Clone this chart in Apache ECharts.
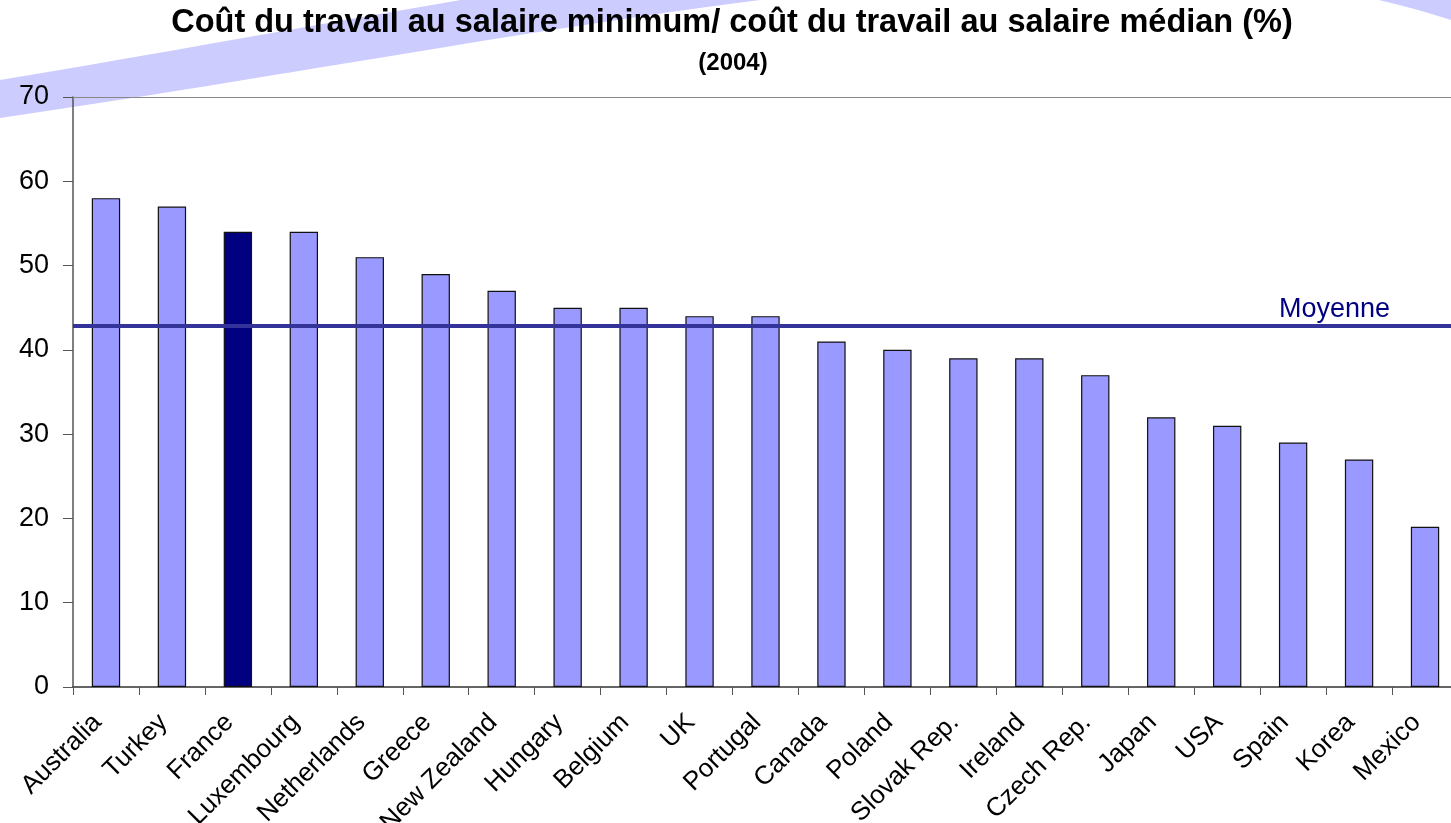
<!DOCTYPE html>
<html>
<head>
<meta charset="utf-8">
<script src="https://cdn.jsdelivr.net/npm/echarts@6/dist/echarts.min.js"></script>
<style>
  html, body { margin: 0; padding: 0; background: #fff; }
  #chart { width: 1451px; height: 823px; }
</style>
</head>
<body>
<div id="chart"></div>
<script>
// pays, trié du plus haut au plus bas
const categories = ['Australia', 'Turkey', 'France', 'Luxembourg', 'Netherlands', 'Greece',
  'New Zealand', 'Hungary', 'Belgium', 'UK', 'Portugal', 'Canada', 'Poland', 'Slovak Rep.',
  'Ireland', 'Czech Rep.', 'Japan', 'USA', 'Spain', 'Korea', 'Mexico']
// coût du travail au salaire minimum / coût au salaire médian (%)
const values = [58, 57, 54, 54, 51, 49, 47, 45, 45, 44, 44, 41, 40, 39, 39, 37, 32, 31, 29, 27, 19]
const moyenne = 42.9
const highlighted = 'France'
const yTicks = [0, 10, 20, 30, 40, 50, 60, 70]

const font = "'Liberation Sans', Arial, sans-serif"
let chart = echarts.init(document.getElementById('chart'))

let barData = categories.map((name, i) => ({
  value: values[i],
  itemStyle: { color: name === highlighted ? '#000080' : '#9999ff' }
}))

// bandeau décoratif : deux courbes de Bézier échantillonnées
function bezier(p0, p1, p2, p3, n) {
  let pts = []
  for (let k = 0; k <= n; k++) {
    let t = k / n, u = 1 - t
    pts.push([
      u * u * u * p0[0] + 3 * u * u * t * p1[0] + 3 * u * t * t * p2[0] + t * t * t * p3[0],
      u * u * u * p0[1] + 3 * u * u * t * p1[1] + 3 * u * t * t * p2[1] + t * t * t * p3[1]
    ])
  }
  return pts
}
let bandPoints = bezier([0, 118], [600, 30], [1100, -95], [1451, 20], 60)
  .concat(bezier([1451, -30], [1100, -140], [600, -20], [0, 80], 60))

let option = {
  animation: false,
  textStyle: { fontFamily: font },
  graphic: [
    {
      type: 'polygon',
      z: -10,
      silent: true,
      shape: { points: bandPoints },
      style: { fill: '#ccccff' }
    },
    {
      type: 'text',
      z: 10,
      style: {
        x: 732, y: 23,
        text: 'Coût du travail au salaire minimum/ coût du travail au salaire médian (%)',
        fontSize: 32.5,
        fontWeight: 'bold',
        fontFamily: font,
        fill: '#000',
        align: 'center',
        verticalAlign: 'middle'
      }
    },
    {
      type: 'text',
      z: 10,
      style: {
        x: 733, y: 63,
        text: '(2004)',
        fontSize: 24,
        fontWeight: 'bold',
        fontFamily: font,
        fill: '#000',
        align: 'center',
        verticalAlign: 'middle'
      }
    }
  ],
  grid: { left: 73, right: -7, top: 97, bottom: 136, containLabel: false, outerBoundsMode: 'none' },
  xAxis: [
    {
      type: 'category',
      data: categories,
      boundaryGap: true,
      axisLine: { lineStyle: { color: '#333', width: 1.5 } },
      axisTick: { show: true, interval: 0, length: 8, alignWithLabel: false, lineStyle: { color: '#555' } },
      axisLabel: {
        interval: 0,
        rotate: 45,
        margin: 23,
        fontSize: 26,
        color: '#000',
        padding: [0, 12, 0, 0]
      },
      splitLine: { show: false }
    },
    {
      // ligne du haut de la zone de tracé
      type: 'category',
      position: 'top',
      data: categories,
      axisLine: { show: true, lineStyle: { color: '#888', width: 1.2 } },
      axisTick: { show: false },
      axisLabel: { show: false }
    }
  ],
  yAxis: {
    type: 'value',
    min: yTicks[0],
    max: yTicks[yTicks.length - 1],
    interval: 10,
    axisLine: { show: true, lineStyle: { color: '#555', width: 1.5 } },
    axisTick: { show: true, length: 10, lineStyle: { color: '#555' } },
    axisLabel: { fontSize: 27, color: '#000', margin: 24 },
    splitLine: { show: false }
  },
  series: [
    {
      type: 'bar',
      data: barData,
      barWidth: '43%',
      itemStyle: { borderColor: '#111', borderWidth: 1.2 },
      markLine: {
        silent: true,
        symbol: 'none',
        lineStyle: { color: '#333399', width: 4, type: 'solid' },
        label: {
          show: true,
          formatter: 'Moyenne',
          position: 'insideEndTop',
          distance: [68, 2],
          color: '#000080',
          fontSize: 27,
          fontFamily: font
        },
        data: [{ yAxis: moyenne }]
      }
    }
  ]
}
chart.setOption(option)
</script>
</body>
</html>
